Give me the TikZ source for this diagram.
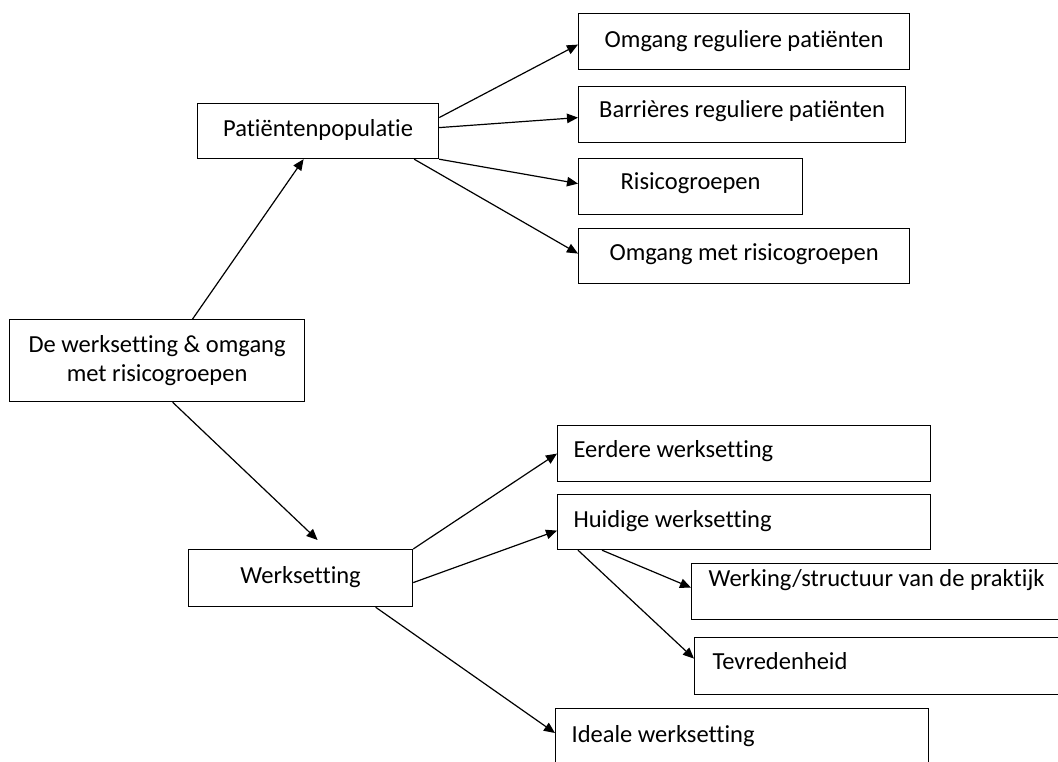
\documentclass[tikz,border=0pt]{standalone}
\usepackage{fontspec}
\setmainfont{Carlito}[Ligatures=NoCommon]
\usetikzlibrary{arrows.meta,positioning}

\begin{document}
\begin{tikzpicture}[x=1pt, y=-1pt, >={Triangle[length=11pt,width=9.5pt]},
  every node/.style={font=\fontsize{24.5}{29}\selectfont},
  box/.style={draw, line width=1.2pt, anchor=north west, inner sep=0pt, minimum height=56pt, text height=17pt, text depth=5pt},
  leftbox/.style={box, align=flush left, inner xsep=16pt}]
 \useasboundingbox (0,0) rectangle (1058,762);

 \node(main) [draw, line width=1.2pt, anchor=north west, minimum width=295pt, minimum height=82pt, align=center] at (9,319) {De werksetting \& omgang\\met risicogroepen};

 \node(populatie) [box, minimum width=241pt, minimum height=55pt, text depth=5.6pt] at (197,103) {Patiëntenpopulatie};
 \node(omgangreg) [box, minimum width=331pt, text depth=5.6pt] at (578,13) {Omgang reguliere patiënten};
 \node(barrieres) [box, minimum width=327pt, text depth=11.6pt] at (578,86) {Barrières reguliere patiënten};
 \node(risico) [box, minimum width=224pt, text depth=10.6pt] at (578,158) {Risicogroepen};
 \node(omgangrisico) [box, minimum width=331pt, minimum height=55pt, text depth=7.6pt] at (578,228) {Omgang met risicogroepen};

 \node(werksetting) [box, minimum width=224pt, minimum height=57pt, text depth=6.6pt] at (188,549) {Werksetting};
 \node(eerdere) [leftbox, text width=341pt, text depth=9.6pt] at (557,425) {Eerdere werksetting};
 \node(huidige) [leftbox, text width=341pt, minimum height=55pt, text depth=5.6pt] at (557,494) {Huidige werksetting};
 \node(werking) [leftbox, inner xsep=17pt, text width=370pt, text depth=26.6pt] at (691,563) {Werking/structuur van de praktijk};
 \node(tevreden) [leftbox, inner xsep=18pt, text width=340pt, minimum height=57pt, text depth=9.6pt] at (694,637) {Tevredenheid};
 \node(ideale) [leftbox, text width=341pt, minimum height=60pt, text depth=8.6pt] at (555,708) {Ideale werksetting};

 \path[->, line width=1.2pt] ([xshift=35.5pt]main.north) edge ([xshift=-14.5pt]populatie.south)
         ([xshift=15.5pt]main.south) edge ([xshift=17pt, yshift=9pt]werksetting.north);

 \path[->, line width=1.2pt] ([yshift=13.5pt]populatie.east) edge ([yshift=-3pt]omgangreg.west)
         ([yshift=3.5pt]populatie.east) edge ([yshift=-3pt]barrieres.west)
         (populatie.south east) edge ([yshift=3pt]risico.west)
         ([xshift=-25pt]populatie.south east) edge ([yshift=2.5pt]omgangrisico.west);

 \path[->, line width=1.2pt] (werksetting.north east) edge (eerdere.west)
         ([yshift=-4.5pt]werksetting.east) edge ([yshift=-8.5pt]huidige.west)
         ([xshift=75pt]werksetting.south) edge ([yshift=-25pt]ideale.north west);

 \path[->, line width=1.2pt] ([xshift=45pt]huidige.south west) edge ([yshift=4pt]werking.west)
         ([xshift=21pt]huidige.south west) edge ([yshift=7.5pt]tevreden.west);

\end{tikzpicture}
\end{document}
